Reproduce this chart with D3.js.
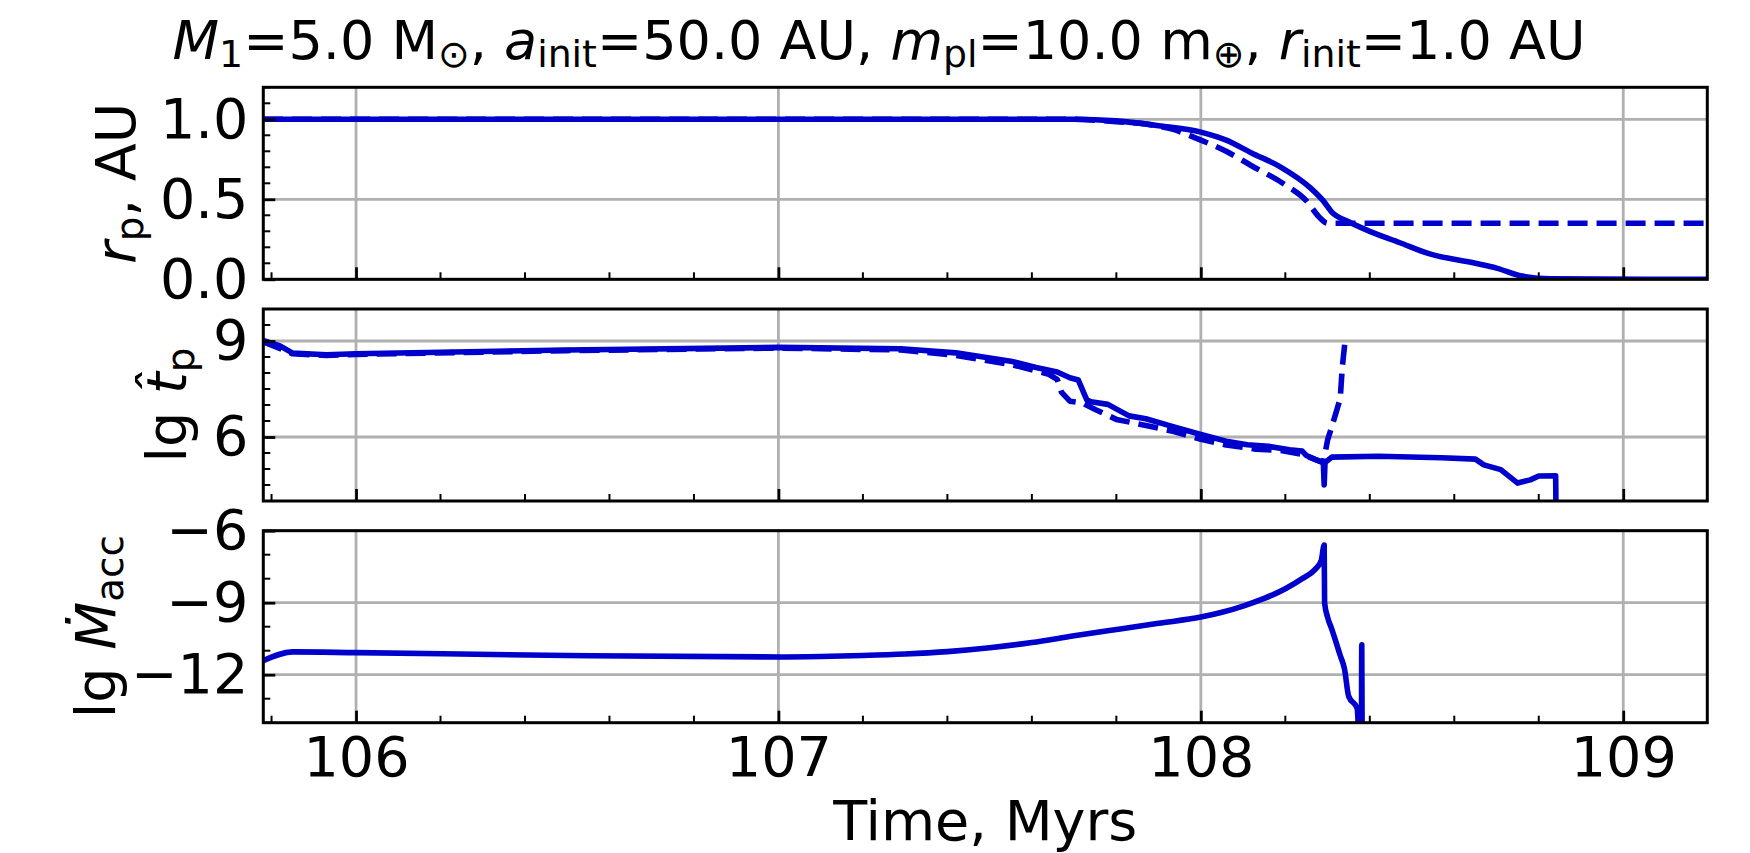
<!DOCTYPE html>
<html>
<head>
<meta charset="utf-8">
<script src="https://cdn.jsdelivr.net/npm/d3@7"></script>
<style>
  body { margin: 0; background: #fff; }
  svg text { font-family: "DejaVu Sans", sans-serif; fill: #000; }
</style>
</head>
<body>
<svg id="chart" width="1750" height="853"></svg>
<script>
// time axis
const timeDomain = [105.7805, 109.199];
const timeTicks = [106, 107, 108, 109];

// r_p, AU  [time, value]
const rpSolid = [[105.78,1.0],[107.70,1.0],[107.80,0.99],[107.90,0.96],[108.0,0.92],[108.06,0.87],[108.12,0.79],[108.19,0.70],[108.26,0.57],[108.29,0.49],[108.31,0.42],[108.35,0.36],[108.40,0.30],[108.47,0.23],[108.54,0.16],[108.65,0.10],[108.70,0.07],[108.76,0.02],[108.83,0.003],[109.2,0.0]];
const rpDashed = [[105.78,1.0],[107.70,1.0],[107.80,0.985],[107.87,0.97],[107.93,0.94],[108.0,0.87],[108.06,0.80],[108.12,0.71],[108.20,0.59],[108.25,0.49],[108.28,0.39],[108.30,0.35],[109.2,0.35]];

// lg t_p
const tpSolid = [[105.78,9.02],[105.82,8.85],[105.85,8.62],[105.93,8.57],[106.0,8.6],[106.5,8.72],[107.0,8.8],[107.29,8.76],[107.42,8.63],[107.55,8.37],[107.61,8.17],[107.66,8.03],[107.69,7.85],[107.71,7.78],[107.73,7.16],[107.74,7.1],[107.78,7.02],[107.83,6.66],[107.87,6.57],[107.93,6.34],[108.0,6.08],[108.06,5.87],[108.11,5.76],[108.16,5.71],[108.21,5.6],[108.24,5.56],[108.25,5.42],[108.27,5.3],[108.29,5.2],[108.292,4.5],[108.294,5.2],[108.31,5.37],[108.42,5.4],[108.57,5.35],[108.65,5.31],[108.67,5.13],[108.71,4.98],[108.75,4.56],[108.78,4.66],[108.80,4.78],[108.84,4.79],[108.842,2.0]];
const tpDashed = [[105.78,8.98],[105.85,8.6],[105.93,8.55],[106.0,8.58],[106.5,8.7],[107.0,8.78],[107.29,8.72],[107.42,8.55],[107.55,8.27],[107.64,7.96],[107.66,7.8],[107.67,7.4],[107.69,7.12],[107.72,7.06],[107.75,6.86],[107.80,6.55],[107.87,6.36],[107.93,6.19],[108.0,5.93],[108.06,5.75],[108.13,5.62],[108.19,5.58],[108.24,5.46],[108.29,5.2],[108.30,5.9],[108.31,6.32],[108.33,7.2],[108.335,8.2],[108.34,8.82],[108.342,9.1]];

// lg Mdot_acc
const mdotSolid = [[105.78,-11.42],[105.85,-11.05],[106.0,-11.08],[106.5,-11.2],[107.0,-11.26],[107.1,-11.24],[107.2,-11.2],[107.3,-11.14],[107.4,-11.04],[107.5,-10.88],[107.6,-10.66],[107.7,-10.38],[107.8,-10.12],[107.9,-9.86],[108.0,-9.6],[108.05,-9.4],[108.1,-9.14],[108.15,-8.82],[108.2,-8.42],[108.24,-8.0],[108.27,-7.62],[108.285,-7.25],[108.292,-6.6],[108.293,-9.0],[108.30,-9.6],[108.31,-10.1],[108.33,-11.2],[108.34,-11.75],[108.35,-12.9],[108.37,-13.4],[108.376,-15],[108.380,-15],[108.381,-10.75],[108.382,-15]];

const Viz = {};
Viz.font = 55.6;
Viz.color = "#0000cd";
Viz.margin = {left: 263.3, right: 42.7};
Viz.width = 1750 - Viz.margin.left - Viz.margin.right;
Viz.panelH = 192;

const panels = [
  {top: 87.3, domain: [0, 1.2], ticks: [0, 0.5, 1.0], minor: 0.1, fmt: d3.format(".1f"), curve: d3.curveMonotoneX,
   series: [{data: rpSolid}, {data: rpDashed, dashed: true}],
   label: [{t: "r", i: true}, {t: "p", sub: true}, {t: ", AU"}], labelX: 135},
  {top: 309, domain: [4, 10], ticks: [6, 9], minor: 0.5, fmt: d3.format("d"), curve: d3.curveLinear,
   series: [{data: tpSolid}, {data: tpDashed, dashed: true}],
   label: [{t: "lg "}, {t: "t\u0302", i: true}, {t: "p", sub: true}], labelX: 186},
  {top: 530.7, domain: [-14, -6], ticks: [-12, -9, -6], minor: 1, fmt: d3.format("d"), curve: d3.curveMonotoneX,
   series: [{data: mdotSolid}],
   label: [{t: "lg "}, {t: "\u1E40", i: true}, {t: "acc", sub: true}], labelX: 115}
];

const svg = d3.select("#chart");
const x = d3.scaleLinear().domain(timeDomain).range([0, Viz.width]);

// rich text with italic parts and subscripts
function richText(sel, parts, size) {
  let shift = 0;
  parts.forEach(p => {
    const target = p.sub ? size * 0.14 : 0;
    const ts = sel.append("tspan").text(p.t)
      .attr("font-size", p.sub ? size * 0.7 : size)
      .attr("dy", target - shift);
    if (p.i) ts.attr("font-style", "italic");
    shift = target;
  });
}

function minorTicks(domain, step, majors) {
  const out = [];
  const start = Math.ceil(domain[0] / step - 1e-9);
  for (let k = start; k * step <= domain[1] + 1e-9; k++) {
    const v = +(k * step).toFixed(6);
    if (!majors.some(m => Math.abs(m - v) < 1e-6)) out.push(v);
  }
  return out;
}

const xMinor = minorTicks(timeDomain, 0.2, timeTicks);

panels.forEach((p, idx) => {
  const g = svg.append("g").attr("transform", `translate(${Viz.margin.left},${p.top})`);
  const y = d3.scaleLinear().domain(p.domain).range([Viz.panelH, 0]);

  g.append("clipPath").attr("id", "clip" + idx)
    .append("rect").attr("width", Viz.width).attr("height", Viz.panelH);

  // grid
  g.append("g").selectAll("line").data(timeTicks).join("line")
    .attr("x1", d => x(d)).attr("x2", d => x(d)).attr("y1", 0).attr("y2", Viz.panelH)
    .attr("stroke", "#b0b0b0").attr("stroke-width", 2.8);
  g.append("g").selectAll("line").data(p.ticks).join("line")
    .attr("x1", 0).attr("x2", Viz.width).attr("y1", d => y(d)).attr("y2", d => y(d))
    .attr("stroke", "#b0b0b0").attr("stroke-width", 2.8);

  // lines
  const line = d3.line().curve(p.curve).x(d => x(d[0])).y(d => y(d[1]));
  const lines = g.append("g").attr("clip-path", `url(#clip${idx})`);
  p.series.forEach(s => {
    lines.append("path").datum(s.data)
      .attr("d", line)
      .attr("fill", "none")
      .attr("stroke", Viz.color)
      .attr("stroke-width", 5.6)
      .attr("stroke-linejoin", "round")
      .attr("stroke-dasharray", s.dashed ? "20,9" : null);
  });

  // minor ticks (inward)
  g.append("g").selectAll("line").data(minorTicks(p.domain, p.minor, p.ticks)).join("line")
    .attr("x1", 0).attr("x2", 7).attr("y1", d => y(d)).attr("y2", d => y(d))
    .attr("stroke", "#000").attr("stroke-width", 2);
  g.append("g").selectAll("line").data(xMinor).join("line")
    .attr("x1", d => x(d)).attr("x2", d => x(d)).attr("y1", Viz.panelH).attr("y2", Viz.panelH - 7)
    .attr("stroke", "#000").attr("stroke-width", 2);

  // major axes
  const yAxis = d3.axisLeft(y).tickValues(p.ticks).tickFormat(p.fmt)
    .tickSizeInner(-12).tickSizeOuter(0).tickPadding(15);
  const ya = g.append("g").call(yAxis);
  ya.select(".domain").remove();
  ya.selectAll(".tick line").attr("stroke", "#000").attr("stroke-width", 2.8);
  ya.selectAll("text").attr("font-size", Viz.font).attr("font-family", "DejaVu Sans");

  const xAxis = d3.axisBottom(x).tickValues(timeTicks)
    .tickSizeInner(-12).tickSizeOuter(0).tickPadding(14)
    .tickFormat(idx === panels.length - 1 ? d3.format("d") : "");
  const xa = g.append("g").attr("transform", `translate(0,${Viz.panelH})`).call(xAxis);
  xa.select(".domain").remove();
  xa.selectAll(".tick line").attr("stroke", "#000").attr("stroke-width", 2.8);
  xa.selectAll("text").attr("font-size", Viz.font).attr("font-family", "DejaVu Sans");

  // frame
  g.append("rect").attr("width", Viz.width).attr("height", Viz.panelH)
    .attr("fill", "none").attr("stroke", "#000").attr("stroke-width", 3);

  // y label
  const lab = svg.append("text")
    .attr("transform", `translate(${p.labelX},${p.top + Viz.panelH / 2}) rotate(-90)`)
    .attr("text-anchor", "middle");
  richText(lab, p.label, Viz.font);
});

// x label
svg.append("text").attr("x", Viz.margin.left + Viz.width / 2).attr("y", 840)
  .attr("text-anchor", "middle").attr("font-size", Viz.font).text("Time, Myrs");

// title
const title = svg.append("text").attr("x", 879).attr("y", 59).attr("text-anchor", "middle");
richText(title, [
  {t: "M", i: true}, {t: "1", sub: true}, {t: "=5.0 M"}, {t: "\u2299", sub: true},
  {t: ", "}, {t: "a", i: true}, {t: "init", sub: true}, {t: "=50.0 AU, "},
  {t: "m", i: true}, {t: "pl", sub: true}, {t: "=10.0 m"}, {t: "\u2295", sub: true},
  {t: ", "}, {t: "r", i: true}, {t: "init", sub: true}, {t: "=1.0 AU"}
], 54);
</script>
</body>
</html>
